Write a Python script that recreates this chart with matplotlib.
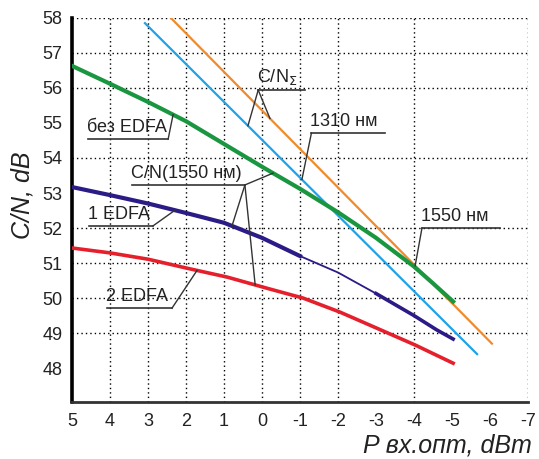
import numpy as np
import matplotlib
matplotlib.use('Agg')
import matplotlib.pyplot as plt

plt.rcParams['font.family'] = ['Liberation Sans', 'DejaVu Sans']
plt.rcParams['axes.unicode_minus'] = False

# C/N_sum lines (straight)
x_1550 = [2.4, -6.05]
cn_1550 = [58.0, 48.7]
x_1310 = [3.08, -5.66]
cn_1310 = [57.85, 48.4]

# C/N(1550 nm) measured curves
x_noedfa = [5, 4, 3, 2, 1, 0, -1, -2, -3, -4, -4.5, -5.03]
cn_noedfa = [56.63, 56.12, 55.6, 55.05, 54.4, 53.75, 53.12, 52.45, 51.72, 50.9, 50.42, 49.9]
x_1edfa = [5, 4, 3, 2, 1, 0, -1, -2, -3, -4, -4.6, -5.03]
cn_1edfa = [53.17, 52.94, 52.7, 52.43, 52.15, 51.72, 51.2, 50.73, 50.13, 49.5, 49.09, 48.83]
x_2edfa = [5, 4, 3, 2, 1.63, 0.92, -0.2, -1.08, -2.05, -3, -4.03, -5.03]
cn_2edfa = [51.43, 51.29, 51.11, 50.86, 50.77, 50.6, 50.26, 50.0, 49.6, 49.15, 48.66, 48.14]

x_ticks = [5, 4, 3, 2, 1, 0, -1, -2, -3, -4, -5, -6, -7]
y_ticks = [48, 49, 50, 51, 52, 53, 54, 55, 56, 57, 58]
grid_x = [4, 3, 2, 1, 0, -1, -2, -4, -7]
grid_y = [49, 50, 51, 52, 54, 56, 57, 58]

c_orange = '#f08a2a'
c_blue = '#1fa3e8'
c_green = '#1a9640'
c_navy = '#2b1b86'
c_red = '#e5202c'

fig = plt.figure(figsize=(5.39, 4.59), dpi=100)
ax = fig.add_axes([0.1336, 0.124, 0.846, 0.837])
ax.set_xlim(5, -7)
ax.set_ylim(47.03, 58)

gs = (0, (1, 2.2))
for g in grid_x:
    ax.axvline(g, color='black', lw=1.0, ls=gs, zorder=1)
for g in grid_y:
    ax.axhline(g, color='black', lw=1.0, ls=gs, zorder=1)

ax.plot(x_1550, cn_1550, color=c_orange, lw=1.6, zorder=3)
ax.plot(x_1310, cn_1310, color=c_blue, lw=1.6, zorder=3)
ax.plot(x_noedfa, cn_noedfa, color=c_green, lw=3.0, zorder=4)
ax.plot(x_1edfa, cn_1edfa, color=c_navy, lw=1.3, zorder=4)
xe = np.array(x_1edfa)
ye = np.array(cn_1edfa)
m1 = xe >= -1.3
m2 = xe <= -3
ax.plot(xe[m1], ye[m1], color=c_navy, lw=3.0, zorder=4)
ax.plot(xe[m2], ye[m2], color=c_navy, lw=2.6, zorder=4)
ax.plot(x_2edfa, cn_2edfa, color=c_red, lw=2.6, zorder=4)

for s in ['top', 'right']:
    ax.spines[s].set_visible(False)
ax.spines['left'].set_linewidth(2.6)
ax.spines['left'].set_color('black')
ax.spines['bottom'].set_linewidth(2.0)
ax.spines['bottom'].set_color('#333333')
ax.set_xticks(x_ticks)
ax.set_xticklabels([str(v) for v in x_ticks])
ax.set_yticks(y_ticks)
ax.tick_params(length=0, labelsize=13, colors='#222222')
ax.tick_params(axis='y', pad=7)
ax.tick_params(axis='x', pad=8)


def callout(text, x0, x1, yu, targets):
    ax.plot([x0, x1], [yu, yu], color='#333333', lw=1.2, zorder=5, clip_on=False)
    ax.text(x0 + 0.03, yu + 0.09, text, fontsize=13, color='#222222',
            ha='left', va='bottom', zorder=6)
    for (xs, tx, xs_c, ys_c) in targets:
        ty = np.interp(-tx, -np.array(xs_c), ys_c)
        ax.plot([xs, tx], [yu, ty], color='#333333', lw=1.0, zorder=5)


callout('C/N$_\\Sigma$', 0.1, -1.13, 55.94,
        [(0.1, 0.37, x_1310, cn_1310), (0.1, -0.21, x_1550, cn_1550)])
callout('1310 нм', -1.3, -3.24, 54.71, [(-1.3, -1.05, x_1310, cn_1310)])
callout('1550 нм', -4.21, -6.26, 52.0, [(-4.21, -4.03, x_1550, cn_1550)])
callout('без EDFA', 4.58, 2.47, 54.54, [(2.47, 2.34, x_noedfa, cn_noedfa)])
callout('C/N(1550 нм)', 3.42, 0.45, 53.23,
        [(0.45, -0.29, x_noedfa, cn_noedfa), (0.45, 0.79, x_1edfa, cn_1edfa),
         (0.45, 0.18, x_2edfa, cn_2edfa)])
callout('1 EDFA', 4.55, 2.87, 52.06, [(2.87, 2.29, x_1edfa, cn_1edfa)])
callout('2 EDFA', 4.08, 2.37, 49.71, [(2.37, 1.71, x_2edfa, cn_2edfa)])

fig.text(0.042, 0.575, 'C/N, dB', rotation=90, fontsize=18, style='italic',
         ha='center', va='center', color='#222222')
fig.text(0.673, 0.03, 'P вх.опт, dBm', fontsize=18, style='italic',
         ha='left', va='center', color='#222222')

fig.savefig('out.png', dpi=100, facecolor='white')
